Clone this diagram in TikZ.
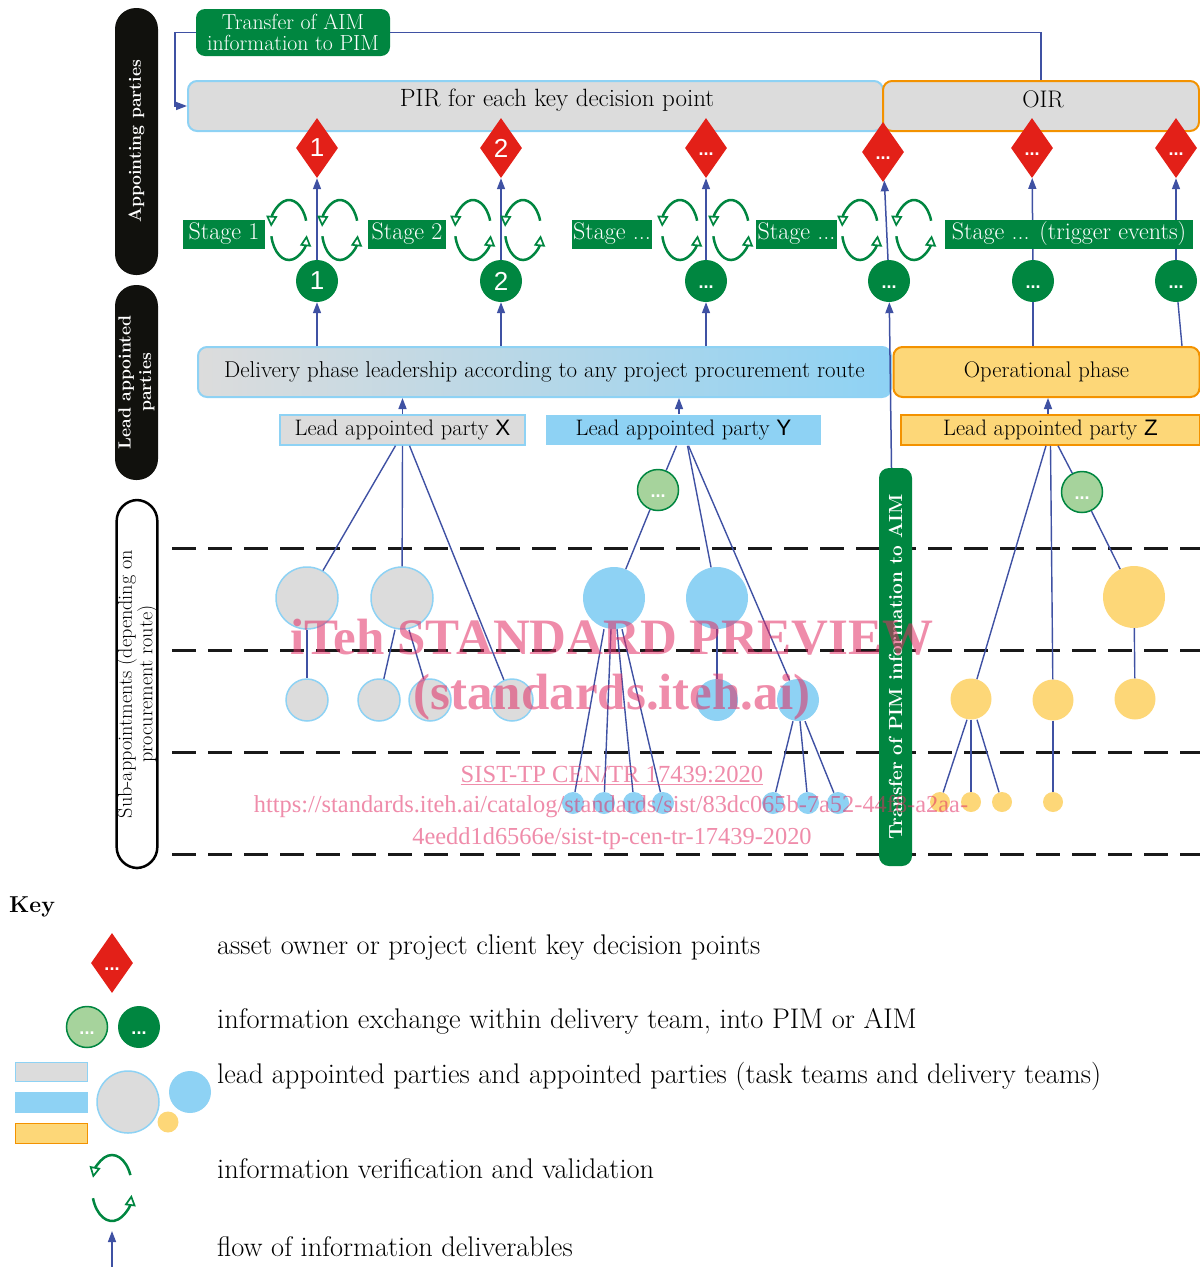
\documentclass[tikz,border=0pt]{standalone}
\usepackage{fontspec}
\newfontfamily\arialf{Liberation Sans}
\newfontfamily\wmfont{Liberation Serif}
\usetikzlibrary{arrows.meta,shapes.geometric,calc}
\definecolor{dgreen}{RGB}{0,134,64}
\definecolor{lgreen}{RGB}{166,211,156}
\definecolor{kred}{RGB}{227,32,24}
\definecolor{fblue}{RGB}{63,81,163}
\definecolor{lblue}{RGB}{142,210,244}
\definecolor{cgray}{RGB}{220,220,220}
\definecolor{cyel}{RGB}{253,215,120}
\definecolor{corange}{RGB}{243,146,0}
\definecolor{pblack}{RGB}{17,17,13}
\definecolor{wmpink}{RGB}{225,45,100}
\newcommand\fs[2]{\fontsize{#1}{#2}\selectfont}
\newcommand\cycsym[7]{%
  \draw[cyc] ($(#1)+(#4:#2pt and #3pt)$) arc[start angle=#4,end angle=#5,x radius=#2pt,y radius=#3pt];
  \draw[cyc] ($(#1)+(#6:#2pt and #3pt)$) arc[start angle=#6,end angle=#7,x radius=#2pt,y radius=#3pt];}
\tikzset{
  flow/.style={draw=fblue, line width=1.5pt, -{Triangle[length=11pt,width=8pt]}},
  tline/.style={draw=fblue, line width=1.4pt},
  kdp/.style={diamond, fill=kred, minimum width=42pt, minimum height=60pt, inner sep=0pt, text=white, font=\arialf\fs{26}{30}},
  kdpd/.style={kdp, font=\arialf\bfseries\fs{18}{20}, text height=14pt, text depth=0pt},
  iex/.style={circle, fill=dgreen, minimum size=42pt, inner sep=0pt, text=white, font=\arialf\fs{26}{30}},
  iexd/.style={iex, font=\arialf\bfseries\fs{18}{20}, text height=14pt, text depth=0pt},
  iexl/.style={circle, fill=lgreen, draw=dgreen, line width=1.5pt, minimum size=41pt, inner sep=0pt, text=white, font=\arialf\bfseries\fs{18}{20}, text height=14pt, text depth=0pt},
  stagebox/.style={rectangle, fill=dgreen, text=white, minimum height=29pt, inner sep=0pt, font=\fs{24}{28}},
  cyc/.style={draw=dgreen, line width=2.5pt, -{Triangle[open,length=11pt,width=11pt,line width=1.7pt]}},
  graycirc/.style={circle, fill=cgray, draw=lblue, line width=1.5pt, inner sep=0pt},
  bluecirc/.style={circle, fill=lblue, inner sep=0pt},
  yelcirc/.style={circle, fill=cyel, inner sep=0pt},
  pill/.style={rounded corners=21pt, fill=pblack, text=white, font=\bfseries\fs{17.6}{20.5}, align=center, inner sep=0pt, rotate=90},
  dashln/.style={draw=black!90, line width=3pt, dash pattern=on 24pt off 12pt},
  tbox/.style={rectangle, rounded corners=9pt, fill=dgreen, text=white, align=center, inner sep=0pt},
  pirbox/.style={rectangle, rounded corners=9pt, fill=cgray, draw=lblue, line width=2pt, inner sep=0pt},
  oirbox/.style={rectangle, rounded corners=9pt, fill=cgray, draw=corange, line width=2pt, inner sep=0pt},
  lpbox/.style={rectangle, minimum height=30pt, inner sep=0pt, line width=1.5pt, font=\fs{22.4}{26}},
  keytext/.style={anchor=west, font=\fs{28.4}{32}, inner sep=0pt},
  wm/.style={text=wmpink, opacity=0.55, inner sep=0pt}
}
\begin{document}
\begin{tikzpicture}[x=1pt,y=-1pt]
\useasboundingbox (0,0) rectangle (1200,1267);
% dashed separators
\foreach \yy in {548,650,752,854} \draw[dashln] (172,\yy) -- (1200,\yy);

% top boxes
\node[tbox, minimum width=194pt, minimum height=47pt, font=\fs{21.8}{21.5}] (tAIM) at (293,32.5) {Transfer of AIM\\information to PIM};
\node[pirbox, minimum width=695pt, minimum height=50pt] (pir) at (535.5,106) {};
\node[oirbox, minimum width=316pt, minimum height=50pt] (oir) at (1041,106) {};
\node[font=\fs{25}{28}] (pirt) at (557,100) {PIR for each key decision point};
\node[font=\fs{24}{28}] (oirt) at (1043,99) {OIR};
\draw[tline] (tAIM.east) -| (oir.north);
\draw[flow] (tAIM.west) -- ++(-21,0) |- (pir.west);

% key decision points
\node[kdp] (d1) at (317,148) {1};
\node[kdp] (d2) at (501,148) {2};
\node[kdpd] (d3) at (706,148) {...};
\node[kdpd] (d4) at (883,152) {...};
\node[kdpd] (d5) at (1032,148) {...};
\node[kdpd] (d6) at (1176,148) {...};

% information exchanges
\node[iex] (c1) at (317,281) {1};
\node[iex] (c2) at (501,281) {2};
\node[iexd] (c3) at (706,281) {...};
\node[iexd] (c4) at (889,281) {...};
\node[iexd] (c5) at (1033,281) {...};
\node[iexd] (c6) at (1176,281) {...};

\foreach \i in {1,...,6} \draw[flow] (c\i) -- (d\i);

% stages
\node[stagebox, minimum width=82pt] (st1) at (224,234) {Stage 1};
\node[stagebox, minimum width=78pt] (st2) at (407,234) {Stage 2};
\node[stagebox, minimum width=80pt] (st3) at (612,234) {Stage ...};
\node[stagebox, minimum width=81pt] (st4) at (796.5,234) {Stage ...};
\node[stagebox, minimum width=248pt] (st5) at (1069,234) {Stage ... (trigger events)};

% verification cycles
\foreach \cx in {289,340,473,523,680,731,860,914}
  {\cycsym{\cx,230}{18}{30}{18}{174}{192}{350}}

% phase boxes
\node[rectangle, rounded corners=9pt, left color=cgray, right color=lblue, draw=lblue, line width=2pt, minimum width=693pt, minimum height=50pt, inner sep=0pt, font=\fs{22.9}{26}] (deliv) at (544.5,372) {Delivery phase leadership according to any project procurement route};
\node[rectangle, rounded corners=9pt, fill=cyel, draw=corange, line width=2pt, minimum width=306pt, minimum height=50pt, inner sep=0pt, font=\fs{22.6}{26}] (oper) at (1046.5,372) {Operational phase};

\draw[flow] (c1.south |- deliv.north) -- (c1);
\draw[flow] (c2.south |- deliv.north) -- (c2);
\draw[flow] (c3.south |- deliv.north) -- (c3);
\draw[tline] (c5.south |- oper.north) -- (c5);
\coordinate (o6) at ($(c6.south |- oper.north)+(6,0)$);
\draw[tline] (o6) -- (c6);

% lead appointed parties
\node[lpbox, fill=cgray, draw=lblue, minimum width=245pt] (lpX) at (402.5,430) {Lead appointed party {\arialf X}};
\node[lpbox, fill=lblue, minimum width=275pt] (lpY) at (683.5,430) {Lead appointed party {\arialf Y}};
\node[lpbox, fill=cyel, draw=corange, minimum width=299pt] (lpZ) at (1050.5,430) {Lead appointed party {\arialf Z}};
\coordinate (ax) at (lpX.north);
\coordinate (ay) at ([xshift=-4.5pt]lpY.north);
\coordinate (az) at ([xshift=-2.5pt]lpZ.north);
\draw[flow] (ax) -- (ax |- deliv.south);
\draw[flow] (ay) -- (ay |- deliv.south);
\draw[flow] (az) -- (az |- oper.south);

% tree X
\node[graycirc, minimum size=62pt] (gX1) at (307,598) {};
\node[graycirc, minimum size=62pt] (gX2) at (402,598) {};
\node[graycirc, minimum size=42pt] (sX1) at (307,700) {};
\node[graycirc, minimum size=42pt] (sX2) at (379,700) {};
\node[graycirc, minimum size=42pt] (sX3) at (430,700) {};
\node[graycirc, minimum size=42pt] (sX4) at (512,700) {};
\draw[tline] ([xshift=-7pt]lpX.south) -- (gX1);
\draw[tline] (lpX.south) -- (gX2);
\draw[tline] ([xshift=7pt]lpX.south) -- (sX4);
\draw[tline] (gX1) -- (sX1);
\draw[tline] ([xshift=-7pt]gX2.south) -- (sX2);
\draw[tline] ([xshift=7pt]gX2.south) -- (sX3);

% tree Y
\node[iexl] (lgY) at (658,490) {...};
\node[bluecirc, minimum size=62pt] (bY1) at (614,598) {};
\node[bluecirc, minimum size=62pt] (bY2) at (717,598) {};
\node[bluecirc, minimum size=42pt] (mY1) at (717,700) {};
\node[bluecirc, minimum size=42pt] (mY2) at (798,700) {};
\node[bluecirc, minimum size=22pt] (sY1) at (573,803) {};
\node[bluecirc, minimum size=22pt] (sY2) at (604,803) {};
\node[bluecirc, minimum size=22pt] (sY3) at (634,803) {};
\node[bluecirc, minimum size=22pt] (sY4) at (663,803) {};
\node[bluecirc, minimum size=22pt] (sY5) at (773,803) {};
\node[bluecirc, minimum size=22pt] (sY6) at (808,803) {};
\node[bluecirc, minimum size=22pt] (sY7) at (838,803) {};
\draw[tline] ([xshift=-7pt]lpY.south) -- (lgY);
\draw[tline] (lgY) -- (bY1);
\draw[tline] ([xshift=4pt]lpY.south) -- (bY2);
\draw[tline] ([xshift=5pt]lpY.south) -- (mY2);
\draw[tline] ([xshift=-10pt]bY1.south) -- (sY1);
\draw[tline] ([xshift=-3pt]bY1.south) -- (sY2);
\draw[tline] ([xshift=3pt]bY1.south) -- (sY3);
\draw[tline] ([xshift=8pt]bY1.south) -- (sY4);
\draw[tline] (bY2) -- (mY1);
\draw[tline] ([xshift=-5pt]mY2.south) -- (sY5);
\draw[tline] ([xshift=2pt]mY2.south) -- (sY6);
\draw[tline] ([xshift=7pt]mY2.south) -- (sY7);

% tree Z
\node[iexl] (lgZ) at (1082,492) {...};
\node[yelcirc, minimum size=62pt] (bZ) at (1134,597) {};
\node[yelcirc, minimum size=41pt] (mZ1) at (971,699) {};
\node[yelcirc, minimum size=41pt] (mZ2) at (1053,700) {};
\node[yelcirc, minimum size=41pt] (mZ3) at (1135,699) {};
\node[yelcirc, minimum size=20pt] (sZ1) at (940,802) {};
\node[yelcirc, minimum size=20pt] (sZ2) at (971,802) {};
\node[yelcirc, minimum size=20pt] (sZ3) at (1002,802) {};
\node[yelcirc, minimum size=20pt] (sZ4) at (1053,802) {};
\draw[tline] ([xshift=-4.5pt]lpZ.south) -- (mZ1);
\draw[tline] (lpZ.south) -- (mZ2);
\draw[tline] ([xshift=7.5pt]lpZ.south) -- (lgZ);
\draw[tline] (lgZ) -- (bZ);
\draw[tline] (bZ) -- (mZ3);
\draw[tline] ([xshift=-4pt]mZ1.south) -- (sZ1);
\draw[tline] (mZ1) -- (sZ2);
\draw[tline] ([xshift=6pt]mZ1.south) -- (sZ3);
\draw[tline] (mZ2) -- (sZ4);

% transfer PIM to AIM
\node[tbox, rounded corners=10pt, rotate=90, minimum width=398pt, minimum height=33pt, font=\bfseries\fs{19}{21}] (tPIM) at (895.5,667) {Transfer of PIM information to AIM};
\coordinate (tp) at ([xshift=-4pt]tPIM.east);
\draw[flow] (tp) -- (c4);

% side labels
\node[pill, minimum width=267pt, minimum height=43pt] (lab1) at (136.5,141.5) {Appointing parties};
\node[pill, minimum width=195pt, minimum height=43pt] (lab2) at (136.5,382.5) {Lead appointed\\parties};
\node[pill, fill=white, draw=black, line width=2.5pt, text=black, font=\fs{20.2}{20.5}, minimum width=368pt, minimum height=40pt] (lab3) at (137,684) {Sub-appointments (depending on\\procurement route)};

% key
\node[font=\bfseries\fs{23}{26}, anchor=west, inner sep=0pt] (keyt) at (9,907) {Key};
\node[kdpd] (kd) at (112,963) {...};
\node[iexl] (kc1) at (87,1027) {...};
\node[iexd] (kc2) at (139,1027) {...};
\node[rectangle, fill=cgray, draw=lblue, line width=1.5pt, minimum width=72pt, minimum height=19pt, inner sep=0pt] (kr1) at (51.5,1072) {};
\node[rectangle, fill=lblue, minimum width=73pt, minimum height=21pt, inner sep=0pt] (kr2) at (51.5,1102.5) {};
\node[rectangle, fill=cyel, draw=corange, line width=1.5pt, minimum width=72pt, minimum height=20pt, inner sep=0pt] (kr3) at (51.5,1133.5) {};
\node[graycirc, minimum size=62pt] (kg) at (128,1102) {};
\node[yelcirc, minimum size=21pt] (ky) at (168,1122) {};
\node[bluecirc, minimum size=42pt] (kb) at (190,1092) {};
\cycsym{112,1188}{20}{33}{23}{162}{198}{348}
\coordinate (ka1) at (112,1267);
\coordinate (ka2) at (112,1231);
\draw[flow] (ka1) -- (ka2);
\node[keytext] (k1) at (217,948) {asset owner or project client key decision points};
\node[keytext] (k2) at (217,1021) {information exchange within delivery team, into PIM or AIM};
\node[keytext] (k3) at (217,1076) {lead appointed parties and appointed parties (task teams and delivery teams)};
\node[keytext] (k4) at (217,1169) {information verification and validation};
\node[keytext] (k5) at (217,1247) {flow of information deliverables};

% watermark
\node[wm, font=\wmfont\bfseries\fs{51}{56}] (wm1) at (612,637) {iTeh STANDARD PREVIEW};
\node[wm, font=\wmfont\bfseries\fs{51}{56}] (wm2) at (612,697) {(standards.iteh.ai)};
\node[wm, font=\wmfont\fs{24.6}{28}] (wm3) at (612,775) {\underline{SIST-TP CEN/TR 17439:2020}};
\node[wm, font=\wmfont\fs{24.4}{28}] (wm4) at (611,807) {https://standards.iteh.ai/catalog/standards/sist/83dc065b-7a52-44f8-a2aa-};
\node[wm, font=\wmfont\fs{24.4}{28}] (wm5) at (612,839) {4eedd1d6566e/sist-tp-cen-tr-17439-2020};
\end{tikzpicture}
\end{document}
